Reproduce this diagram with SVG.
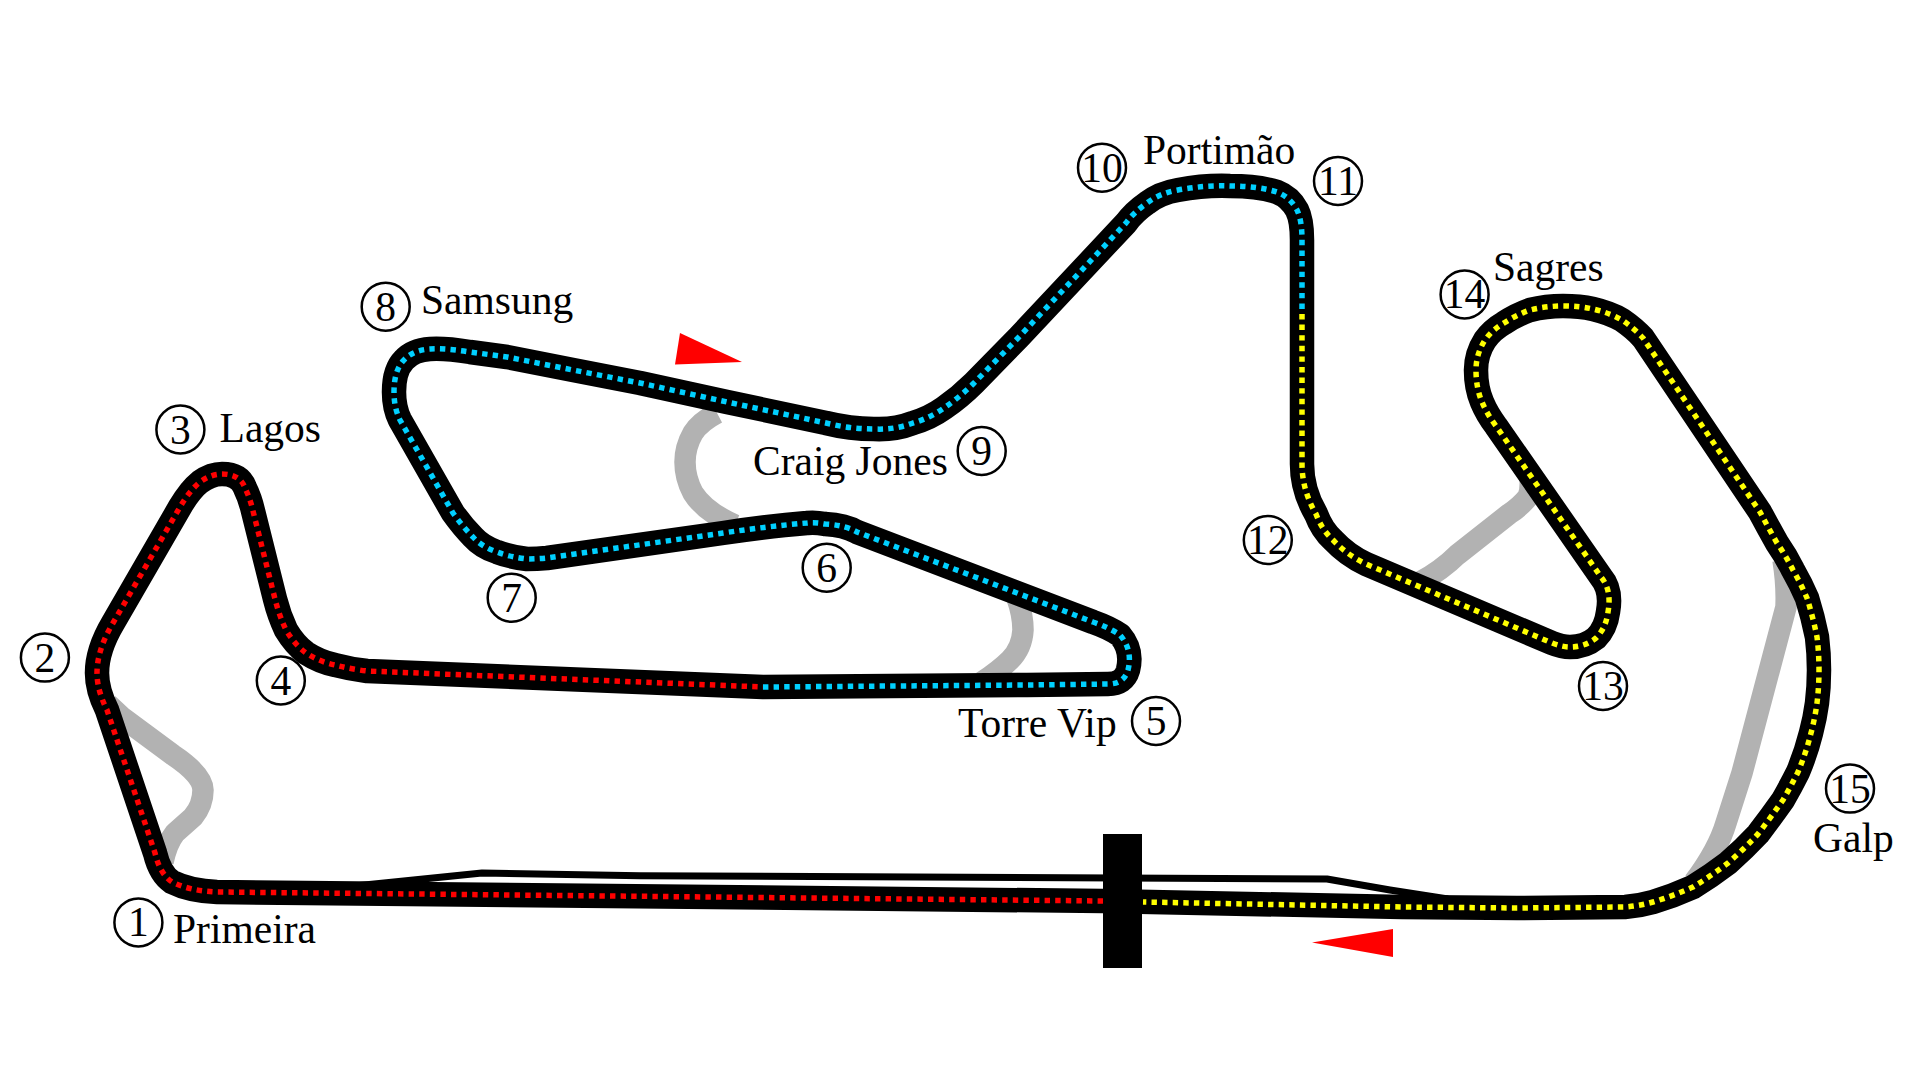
<svg xmlns="http://www.w3.org/2000/svg" width="1920" height="1080" viewBox="0 0 1920 1080">
<style>
.g{fill:none;stroke:#b2b2b2;stroke-width:21.5;stroke-linejoin:round}
.t{fill:none;stroke:#000;stroke-width:24.5;stroke-linejoin:round}
.d{fill:none;stroke-width:5.5;stroke-dasharray:5.4 5.2}
.c{fill:#fff;stroke:#000;stroke-width:2.5}
text{font-family:"Liberation Serif","Times New Roman",serif;font-size:41.5px;fill:#000}
.n{text-anchor:middle}
</style>
<rect width="1920" height="1080" fill="#fff"/>
<g id="connectors">
<g id="run-offs">
<path class="g" d="M108 704 L123 718 L173 755 Q203 775 203 790 Q203 805 193 817 L175 833 Q167 843 163 862"/>
<path class="g" d="M717 413 Q700 422 693 433 Q685 447 685 462 Q685 478 693 493 Q705 512 735 525"/>
<path class="g" d="M1017 598 Q1023 615 1023 630 Q1022 648 1010 660 Q1000 670 982 682"/>
<path class="g" d="M1530 478 Q1531 490 1528 497 Q1520 507 1509 514 L1457 555 Q1442 570 1420 582"/>
<path class="g" d="M1783 560 Q1787 585 1786 607 L1742 773 L1726 823 Q1718 850 1694 882"/>
</g>
<path id="pit-lane" fill="none" stroke="#000" stroke-width="7" stroke-linejoin="round" d="M335 888 L482 873 L640 875.7 L1327 879 L1390 890 L1448 899"/>
<path id="track" class="t" d="M1103 901 L217 892 Q190 891 172 882 Q160 874 155 853 L107 710 Q97 690 97 673 Q97 650 113 623 L180 507 Q190 490 200 482 Q211 474 222 474 Q240 474 245 488 Q250 498 253 511 L275 599 Q279 615 286 630 Q295 645 306 653 Q320 662 335 665 Q350 669 367 671 L763 687 L1027 685 L1108 684 Q1124 684 1128 670 Q1133 650 1120 635 Q1110 628 1093 622 L857 532 Q845 525 825 524 Q815 522 807 523 Q770 526 723 533 L547 558 Q537 559 527 559 Q510 557 497 552 Q482 547 473 537 Q463 527 453 513 L400 420 Q394 408 394 392 Q394 370 404 360 Q413 350 430 349 Q445 348 470 352 L507 357 L573 370 L640 383 L727 402 L826 423 Q850 429 874 429 Q895 430 913 423 Q930 418 944 408 Q960 397 974 383 L1019 337 L1126 223 Q1134 212 1147 203 Q1160 193 1178 190 Q1205 185 1230 186 Q1258 186 1277 192 Q1290 197 1297 210 Q1302 220 1302 240 L1302 464 Q1302 490 1316 514 Q1322 530 1333 540 Q1347 555 1366 564 L1552 643 Q1562 647 1570 647 Q1585 647 1596 638 Q1606 628 1608 612 Q1612 590 1601 577 L1496 426 Q1487 414 1482 402 Q1476 388 1476 370 Q1476 354 1485 340 Q1492 330 1504 323 Q1516 315 1530 310 Q1546 306 1563 306 Q1580 306 1593 309 Q1610 313 1622 320 Q1635 329 1643 338 L1760 512 Q1768 527 1777 543 Q1786 556 1793 570 Q1801 584 1807 598 Q1813 617 1817 637 Q1819 653 1819 670 Q1819 687 1817 703 Q1815 718 1811 733 Q1806 753 1798 772 Q1791 786 1783 800 Q1771 817 1758 834 Q1744 849 1728 863 Q1711 876 1693 887 Q1673 896 1653 902 Q1639 906 1625 907 L1517 908 L1402 907 L1103 901"/>
<path id="sector-1" class="d" stroke="#ff0000" d="M1103 901 L217 892 Q190 891 172 882 Q160 874 155 853 L107 710 Q97 690 97 673 Q97 650 113 623 L180 507 Q190 490 200 482 Q211 474 222 474 Q240 474 245 488 Q250 498 253 511 L275 599 Q279 615 286 630 Q295 645 306 653 Q320 662 335 665 Q350 669 367 671 L763 687"/>
<path id="sector-2" class="d" stroke="#00d0ff" d="M763 687 L1027 685 L1108 684 Q1124 684 1128 670 Q1133 650 1120 635 Q1110 628 1093 622 L857 532 Q845 525 825 524 Q815 522 807 523 Q770 526 723 533 L547 558 Q537 559 527 559 Q510 557 497 552 Q482 547 473 537 Q463 527 453 513 L400 420 Q394 408 394 392 Q394 370 404 360 Q413 350 430 349 Q445 348 470 352 L507 357 L573 370 L640 383 L727 402 L826 423 Q850 429 874 429 Q895 430 913 423 Q930 418 944 408 Q960 397 974 383 L1019 337 L1126 223 Q1134 212 1147 203 Q1160 193 1178 190 Q1205 185 1230 186 Q1258 186 1277 192 Q1290 197 1297 210 Q1302 220 1302 240 L1302 314"/>
<path id="sector-3" class="d" stroke="#ffff00" d="M1302 314 L1302 464 Q1302 490 1316 514 Q1322 530 1333 540 Q1347 555 1366 564 L1552 643 Q1562 647 1570 647 Q1585 647 1596 638 Q1606 628 1608 612 Q1612 590 1601 577 L1496 426 Q1487 414 1482 402 Q1476 388 1476 370 Q1476 354 1485 340 Q1492 330 1504 323 Q1516 315 1530 310 Q1546 306 1563 306 Q1580 306 1593 309 Q1610 313 1622 320 Q1635 329 1643 338 L1760 512 Q1768 527 1777 543 Q1786 556 1793 570 Q1801 584 1807 598 Q1813 617 1817 637 Q1819 653 1819 670 Q1819 687 1817 703 Q1815 718 1811 733 Q1806 753 1798 772 Q1791 786 1783 800 Q1771 817 1758 834 Q1744 849 1728 863 Q1711 876 1693 887 Q1673 896 1653 902 Q1639 906 1625 907 L1517 908 L1402 907 L1143 902"/>
</g>
<g id="finish-line"><rect x="1103" y="834" width="39" height="134" fill="#000"/></g>
<g id="direction-arrows" fill="#ff0000">
<polygon id="arrow-top" points="680,333 742,362 675,364.5"/>
<polygon id="arrow-bottom" points="1312,942.5 1393,929 1393,957"/>
</g>
<g id="turn-1"><circle class="c" cx="138.4" cy="922.4" r="24"/><text class="n" x="138.4" y="936.4">1</text><text x="173" y="942.7">Primeira</text></g>
<g id="turn-2"><circle class="c" cx="44.9" cy="657.6" r="24"/><text class="n" x="44.9" y="671.6">2</text></g>
<g id="turn-3"><circle class="c" cx="180.4" cy="429.5" r="24"/><text class="n" x="180.4" y="443.5">3</text><text x="219.6" y="442">Lagos</text></g>
<g id="turn-4"><circle class="c" cx="280.8" cy="680.5" r="24"/><text class="n" x="280.8" y="694.5">4</text></g>
<g id="turn-5"><circle class="c" cx="1156" cy="721" r="24"/><text class="n" x="1156" y="735">5</text><text x="958" y="737">Torre Vip</text></g>
<g id="turn-6"><circle class="c" cx="826.7" cy="567.7" r="24"/><text class="n" x="826.7" y="581.7">6</text></g>
<g id="turn-7"><circle class="c" cx="511.7" cy="597.7" r="24"/><text class="n" x="511.7" y="611.7">7</text></g>
<g id="turn-8"><circle class="c" cx="385.7" cy="306.7" r="24"/><text class="n" x="385.7" y="320.7">8</text><text x="421" y="314.3">Samsung</text></g>
<g id="turn-9"><circle class="c" cx="981.7" cy="451" r="24"/><text class="n" x="981.7" y="465">9</text><text x="753" y="475">Craig Jones</text></g>
<g id="turn-10"><circle class="c" cx="1102" cy="167.7" r="24"/><text class="n" x="1102" y="181.7">10</text><text x="1143" y="164">Portimão</text></g>
<g id="turn-11"><circle class="c" cx="1338" cy="181" r="24"/><text class="n" x="1338" y="195">11</text></g>
<g id="turn-12"><circle class="c" cx="1267.8" cy="540" r="24"/><text class="n" x="1267.8" y="554">12</text></g>
<g id="turn-13"><circle class="c" cx="1603" cy="686" r="24"/><text class="n" x="1603" y="700">13</text></g>
<g id="turn-14"><circle class="c" cx="1464.6" cy="294.4" r="24"/><text class="n" x="1464.6" y="308.4">14</text><text x="1493" y="281">Sagres</text></g>
<g id="turn-15"><circle class="c" cx="1850" cy="788.6" r="24"/><text class="n" x="1850" y="802.6">15</text><text x="1813" y="851.7">Galp</text></g>
</svg>
